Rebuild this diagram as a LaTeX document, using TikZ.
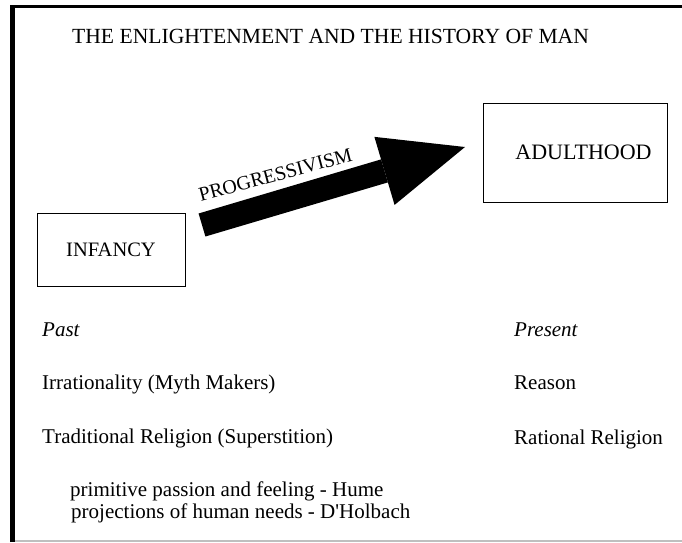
\documentclass[tikz,border=0pt]{standalone}
\usepackage{fontspec}
\setmainfont{Liberation Serif}
\usetikzlibrary{arrows.meta,positioning}

\begin{document}
\begin{tikzpicture}[x=1pt,y=-1pt,
  kasten/.style={draw,thin,inner sep=0pt},
  zeile/.style={anchor=base west,inner sep=0pt,font=\fontsize{21}{24}\selectfont}]
  \useasboundingbox (0,0) rectangle (682,542);

  % Rahmen
  \draw[line width=5pt] (12.5,542) -- (12.5,5);
  \draw[line width=3pt] (10,6.5) -- (682,6.5);
  \draw[gray!50,line width=2pt] (15,540.5) -- (682,540.5);

  % Titel
  \node[zeile,font=\fontsize{21.6}{25}\selectfont] (titel) at (72,43) {THE ENLIGHTENMENT AND THE HISTORY OF MAN};

  % Kaesten
  \node[kasten,minimum width=148pt,minimum height=73pt,font=\fontsize{20.5}{24}\selectfont] (infancy) at (111,249.5) {INFANCY};
  \node[kasten,minimum width=184pt,minimum height=99pt,font=\fontsize{22}{26}\selectfont] (adult) at (575,152.5) {\hspace{17pt}ADULTHOOD};

  % Pfeil
  \coordinate (start) at (202,225);
  \coordinate (spitze) at (465,147);
  \draw[line width=24pt,-{Triangle[length=84pt,width=71pt,line width=0pt]}] (start) -- (spitze);
  \node[anchor=base,inner sep=0pt,rotate=15,font=\fontsize{20}{24}\selectfont] (progr) at (277,181) {PROGRESSIVISM};

  % Vergangenheit
  \node[zeile] (past) at (42,336) {\itshape Past};
  \node[zeile] (irrat) at (42,389) {Irrationality (Myth Makers)};
  \node[zeile] (trad) at (42,443) {Traditional Religion (Superstition)};
  \node[zeile] (hume) at (70,496) {primitive passion and feeling - Hume};
  \node[zeile] (holbach) at (71,518) {projections of human needs - D\textquotesingle Holbach};

  % Gegenwart
  \node[zeile] (present) at (514,336) {\itshape Present};
  \node[zeile] (reason) at (514,389) {Reason};
  \node[zeile] (ratrel) at (514,444) {Rational Religion};
\end{tikzpicture}
\end{document}
